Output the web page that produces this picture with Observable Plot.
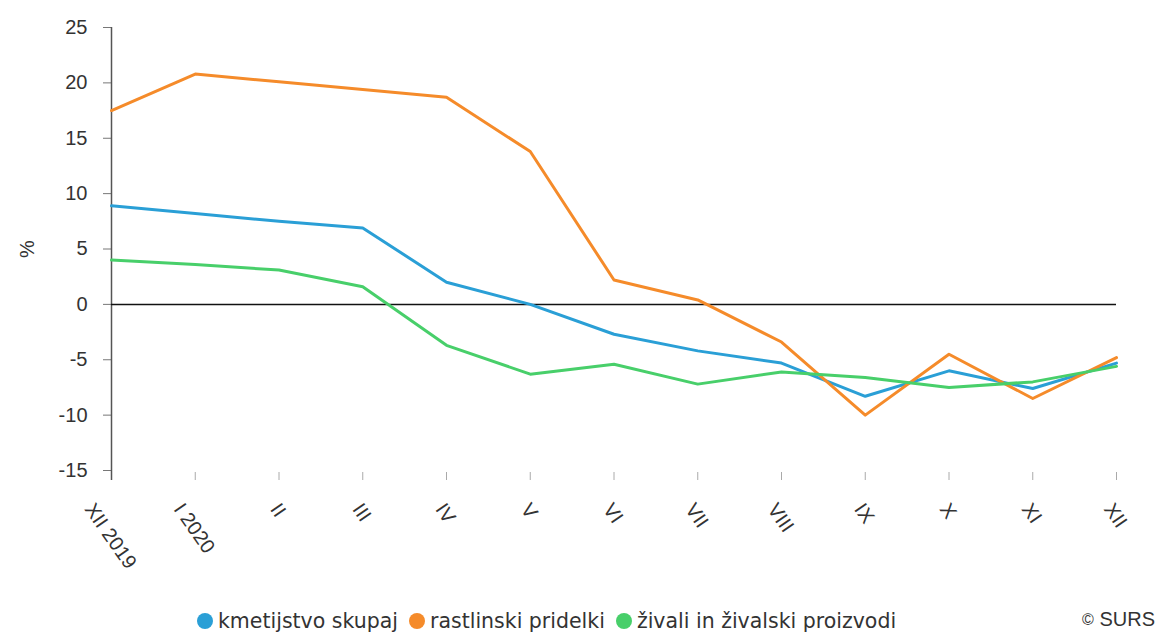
<!DOCTYPE html>
<html>
<head>
<meta charset="utf-8">
<script src="https://cdn.jsdelivr.net/npm/d3@7"></script>
<script src="https://cdn.jsdelivr.net/npm/@observablehq/plot@0.6"></script>
<style>
  html, body { margin: 0; padding: 0; background: #fff; }
  body { width: 1160px; height: 632px; overflow: hidden; font-family: "Liberation Sans", Arial, sans-serif; }
  #chart { position: relative; width: 1160px; }
  #legend { position: relative; width: 1160px; height: 37px; }
  #legend .items { position: absolute; left: 197px; top: 14px; display: flex; align-items: center; }
  #legend .item { display: flex; align-items: center; margin-right: 11px; font-family: "DejaVu Sans", sans-serif; font-size: 20.5px; color: #333; }
  #legend .dot { width: 16px; height: 16px; border-radius: 50%; margin-right: 5px; }
  #legend .credit { position: absolute; right: 5px; top: 13px; font-size: 20px; color: #333; }
  #legend .credit .c { font-size: 16px; vertical-align: 1px; }
</style>
</head>
<body>
<div id="chart"></div>
<div id="legend"></div>
<script>
const months = ["XII 2019", "I 2020", "II", "III", "IV", "V", "VI", "VII", "VIII", "IX", "X", "XI", "XII"];
const seriesNames = ["kmetijstvo skupaj", "rastlinski pridelki", "živali in živalski proizvodi"];
const seriesColors = ["#2a9fd6", "#f58b2a", "#48cf6a"];
const kmetijstvo = [8.9, 8.2, 7.5, 6.9, 2.0, 0.0, -2.7, -4.2, -5.3, -8.3, -6.0, -7.6, -5.3];
const rastlinski = [17.5, 20.8, 20.1, 19.4, 18.7, 13.8, 2.2, 0.4, -3.4, -10.0, -4.5, -8.5, -4.8];
const zivali = [4.0, 3.6, 3.1, 1.6, -3.7, -6.3, -5.4, -7.2, -6.1, -6.6, -7.5, -7.0, -5.6];
const yTicks = [-15, -10, -5, 0, 5, 10, 15, 20, 25];
const yLabel = "%";
const creditMark = "©";
const creditText = " SURS";

const seriesValues = [kmetijstvo, rastlinski, zivali];
const data = [];
seriesNames.forEach((name, i) => {
  months.forEach((m, j) => data.push({month: m, value: seriesValues[i][j], series: name}));
});

const chart = Plot.plot({
  width: 1160,
  height: 595,
  marginLeft: 111,
  marginRight: 44,
  marginTop: 27,
  marginBottom: 125,
  style: {fontFamily: "'Liberation Sans', Arial, sans-serif", fontSize: "20px", color: "#333", background: "#fff"},
  x: {type: "point", domain: months, padding: 0, round: false},
  y: {domain: [-15, 25]},
  color: {domain: seriesNames, range: seriesColors},
  marks: [
    Plot.axisY({ticks: yTicks, tickSize: 8, tickPadding: 16, stroke: "#777", fill: "#333",
      tickFormat: d => String(d),
      label: yLabel, labelAnchor: "center", labelArrow: "none", labelOffset: 92, fontSize: 20}),
    Plot.axisX({tickSize: 8, tickFormat: () => "", stroke: "#aaa", label: null, dy: 2}),
    Plot.axisX({tickSize: 0, tickPadding: 20, fill: "#333", rotate: 55,
      textAnchor: "middle", lineAnchor: "middle", label: null, fontSize: 20}),
    Plot.ruleX([months[0]], {y1: 25, y2: -15, insetBottom: -10, stroke: "#555", strokeWidth: 1.5}),
    Plot.ruleY([0], {stroke: "#111", strokeWidth: 1.5}),
    Plot.line(data, {x: "month", y: "value", z: "series", stroke: "series", strokeWidth: 3, strokeLinejoin: "round"})
  ]
});
document.getElementById("chart").appendChild(chart);

// place rotated x labels: centered on the tick, bounding box top just below the ticks
const xs = chart.scale("x");
const svgRect = chart.getBoundingClientRect();
chart.querySelectorAll('g[aria-label="x-axis tick label"] text').forEach(t => {
  const label = t.textContent;
  if (!months.includes(label)) return;
  const r = t.getBoundingClientRect();
  const cx = (r.left + r.right) / 2 - svgRect.left;
  const top = r.top - svgRect.top;
  const dx = xs.apply(label) - cx;
  const dy = 499 - top;
  const tr = t.getAttribute("transform") || "";
  t.setAttribute("transform", `translate(${dx},${dy}) ${tr}`);
});

// legend
const legend = document.getElementById("legend");
const items = document.createElement("div");
items.className = "items";
seriesNames.forEach((name, i) => {
  const it = document.createElement("div");
  it.className = "item";
  const dot = document.createElement("span");
  dot.className = "dot";
  dot.style.background = seriesColors[i];
  const lab = document.createElement("span");
  lab.textContent = name;
  it.appendChild(dot);
  it.appendChild(lab);
  items.appendChild(it);
});
legend.appendChild(items);
const cr = document.createElement("div");
cr.className = "credit";
const c1 = document.createElement("span");
c1.className = "c";
c1.textContent = creditMark;
cr.appendChild(c1);
cr.appendChild(document.createTextNode(creditText));
legend.appendChild(cr);
</script>
</body>
</html>
